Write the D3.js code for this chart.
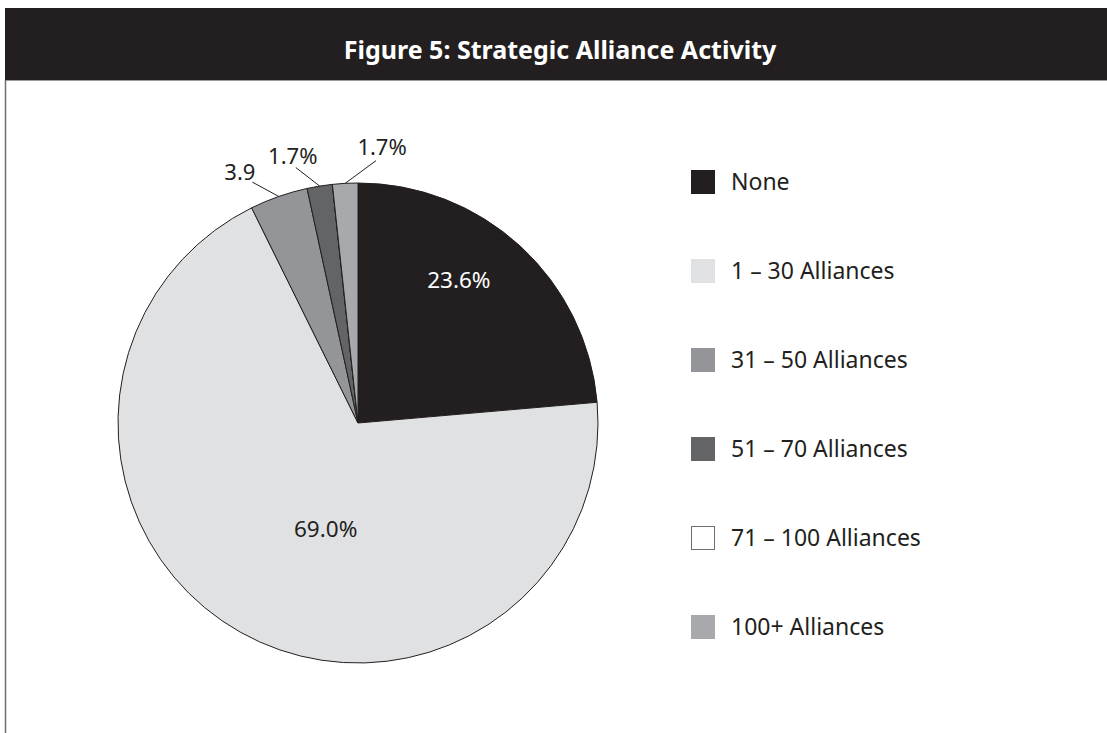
<!DOCTYPE html>
<html>
<head>
<meta charset="utf-8">
<script src="https://cdn.jsdelivr.net/npm/d3@7"></script>
<style>
  body { margin: 0; background: #fff; }
  svg { display: block; }
</style>
</head>
<body>
<script>
// chart data
const categories = ["None", "1 – 30 Alliances", "31 – 50 Alliances", "51 – 70 Alliances", "71 – 100 Alliances", "100+ Alliances"];
const values = [23.6, 69.0, 3.9, 1.7, 0, 1.7];
const sliceLabels = ["23.6%", "69.0%", "3.9", "1.7%", "", "1.7%"];
const colors = ["#231f20", "#e0e1e3", "#939598", "#636466", "#ffffff", "#a7a9ac"];
const title = "Figure 5: Strategic Alliance Activity";

const w = 1107, h = 733;
const font = "'Noto Sans', sans-serif";
const ink = "#231f20";

const svg = d3.select("body").append("svg")
  .attr("width", w)
  .attr("height", h);

// header band
svg.append("rect")
  .attr("x", 5).attr("y", 8)
  .attr("width", w - 5).attr("height", 72)
  .attr("fill", ink);

svg.append("line")
  .attr("x1", 5).attr("x2", w)
  .attr("y1", 80.5).attr("y2", 80.5)
  .attr("stroke", "#9a9a9a").attr("stroke-width", 1);

// left frame line
svg.append("line")
  .attr("x1", 5.5).attr("x2", 5.5)
  .attr("y1", 80).attr("y2", h)
  .attr("stroke", "#6d6e70").attr("stroke-width", 1.5);

svg.append("text")
  .attr("x", 560).attr("y", 59)
  .attr("text-anchor", "middle")
  .attr("fill", "#fff")
  .style("font-family", font)
  .style("font-weight", "bold")
  .style("font-size", "25px")
  .text(title);

// pie
const cx = 358, cy = 423, r = 240;
const pie = d3.pie().sort(null).value(d => d)(values);
const arc = d3.arc().innerRadius(0).outerRadius(r);

const g = svg.append("g").attr("transform", `translate(${cx},${cy})`);

g.selectAll("path.slice")
  .data(pie)
  .enter()
  .append("path")
  .attr("class", "slice")
  .attr("d", arc)
  .attr("fill", (d, i) => colors[i])
  .attr("stroke", ink)
  .attr("stroke-width", 1);

const polar = (a, rad) => [Math.sin(a) * rad, -Math.cos(a) * rad];

// labels inside the two big slices
const inner = [
  { i: 0, frac: 0.414, rad: 175 },
  { i: 1, frac: 0.45, rad: 111 }
];
inner.forEach(o => {
  const d = pie[o.i];
  const a = d.startAngle + (d.endAngle - d.startAngle) * o.frac;
  const p = polar(a, o.rad);
  g.append("text")
    .attr("x", p[0]).attr("y", p[1] + 8)
    .attr("text-anchor", "middle")
    .attr("fill", o.i === 0 ? "#fff" : ink)
    .style("font-family", font)
    .style("font-size", "22.5px")
    .text(sliceLabels[o.i]);
});

// outside labels with leader lines for the small slices
const outer = [
  { i: 2, shift: -4.4, anchor: "end", dx: 3, dy: -2 },
  { i: 3, shift: -4.5, anchor: "middle", dx: -3, dy: -3 },
  { i: 5, shift: 7, anchor: "middle", dx: 6, dy: -6 }
];
outer.forEach(o => {
  const d = pie[o.i];
  const mid = (d.startAngle + d.endAngle) / 2;
  const p0 = polar(mid, r);
  const p1 = polar(mid + o.shift * Math.PI / 180, 263);
  g.append("line")
    .attr("x1", p0[0]).attr("y1", p0[1])
    .attr("x2", p1[0]).attr("y2", p1[1])
    .attr("stroke", ink).attr("stroke-width", 1);
  g.append("text")
    .attr("x", p1[0] + o.dx).attr("y", p1[1] + o.dy)
    .attr("text-anchor", o.anchor)
    .attr("fill", ink)
    .style("font-family", font)
    .style("font-size", "22px")
    .text(sliceLabels[o.i]);
});

// legend
const legendY = d3.scalePoint()
  .domain(categories)
  .range([170, 615]);

const legend = svg.selectAll("g.legend")
  .data(categories)
  .enter()
  .append("g")
  .attr("class", "legend")
  .attr("transform", d => `translate(691,${legendY(d)})`);

legend.append("rect")
  .attr("x", (d, i) => colors[i] === "#ffffff" ? 0.5 : 0)
  .attr("y", (d, i) => colors[i] === "#ffffff" ? 0.5 : 0)
  .attr("width", (d, i) => colors[i] === "#ffffff" ? 23 : 24)
  .attr("height", (d, i) => colors[i] === "#ffffff" ? 23 : 24)
  .attr("fill", (d, i) => colors[i])
  .attr("stroke", (d, i) => colors[i] === "#ffffff" ? "#6d6e70" : "none");

legend.append("text")
  .attr("x", 40).attr("y", 20)
  .attr("fill", ink)
  .style("font-family", font)
  .style("font-size", "23px")
  .text(d => d);
</script>
</body>
</html>
